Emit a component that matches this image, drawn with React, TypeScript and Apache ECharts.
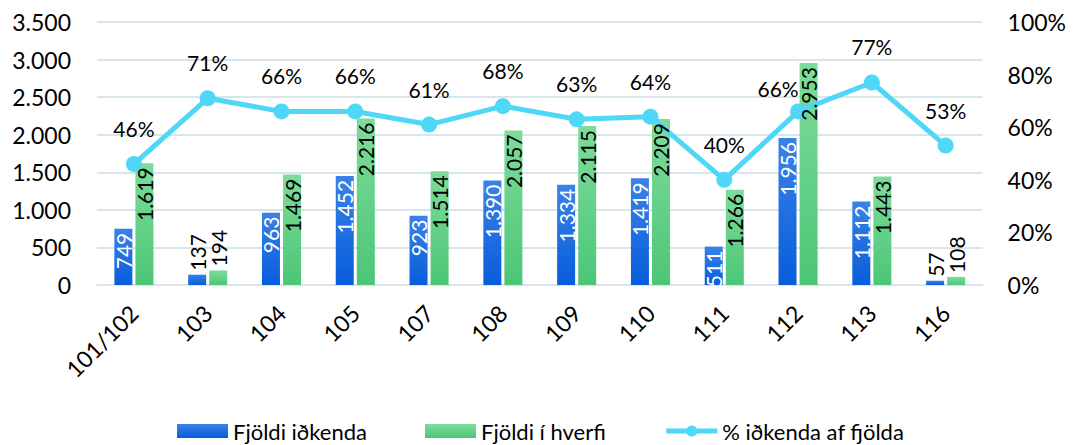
import React, { useEffect, useRef } from "react";
import * as echarts from "echarts";

const categories = ["101/102", "103", "104", "105", "107", "108", "109", "110", "111", "112", "113", "116"];
const participants = [749, 137, 963, 1452, 923, 1390, 1334, 1419, 511, 1956, 1112, 57];
const population = [1619, 194, 1469, 2216, 1514, 2057, 2115, 2209, 1266, 2953, 1443, 108];
const percent = [46, 71, 66, 66, 61, 68, 63, 64, 40, 66, 77, 53];

const FONT = "Lato, 'Open Sans', sans-serif";
const BAR_W = 18;
const BAR_GAP = "17%";

const fmt = (v: number) => String(v).replace(/\B(?=(\d{3})+(?!\d))/g, ".");

function labelData(values: number[], insideColor: string) {
  return values.map((v) => {
    const small = v < 300;
    return {
      value: v,
      label: small
        ? { position: "top", rotate: 90, align: "left", verticalAlign: "middle", color: "#000", distance: 4 }
        : { position: "insideTop", rotate: 90, align: "right", verticalAlign: "middle", color: insideColor, distance: 4 },
    };
  });
}

export default function App() {
  const ref = useRef<HTMLDivElement>(null);
  useEffect(() => {
    if (!ref.current) return;
    const chart = echarts.init(ref.current, undefined, { renderer: "svg" });
    const gridColor = "#d6e6ea";
    const blue = new echarts.graphic.LinearGradient(0, 0, 0, 1, [
      { offset: 0, color: "#3b82e6" },
      { offset: 1, color: "#075ddb" },
    ]);
    const green = new echarts.graphic.LinearGradient(0, 0, 0, 1, [
      { offset: 0, color: "#7edc9b" },
      { offset: 1, color: "#4cc676" },
    ]);
    const barLabel = { show: true, fontSize: 21, fontFamily: FONT, formatter: (p: any) => fmt(p.value) };
    const lineLabels = percent.map((v, i) =>
      categories[i] === "112"
        ? { value: v, label: { position: "top", distance: 4, offset: [-20, 0] } }
        : v
    );
    chart.setOption({
      animation: false,
      backgroundColor: "#fff",
      textStyle: { fontFamily: FONT },
      grid: { left: 89, right: 77, top: 14, bottom: 160 },
      legend: {
        top: 407,
        left: 164,
        itemGap: 58,
        itemWidth: 51,
        itemHeight: 14,
        textStyle: { fontSize: 22, fontFamily: FONT, color: "#000" },
        data: [
          { name: "Fjöldi iðkenda", icon: "rect" },
          { name: "Fjöldi í hverfi", icon: "rect" },
          { name: "% iðkenda af fjölda", lineStyle: { width: 5 } },
        ],
      },
      xAxis: [
        {
          type: "category",
          data: categories,
          axisLine: { lineStyle: { color: gridColor, width: 2 } },
          axisTick: { show: false },
          axisLabel: { rotate: 45, fontSize: 23, color: "#000", fontFamily: FONT, margin: 24, interval: 0 },
        },
        {
          type: "category",
          data: categories,
          show: false,
        },
      ],
      yAxis: [
        {
          type: "value",
          min: 0,
          max: 3500,
          interval: 500,
          axisLine: { show: false },
          axisTick: { show: false },
          splitLine: { lineStyle: { color: gridColor, width: 2 } },
          axisLabel: { fontSize: 23, color: "#000", fontFamily: FONT, margin: 26, formatter: (v: number) => fmt(v) },
        },
        {
          type: "value",
          min: 0,
          max: 100,
          interval: 20,
          axisLine: { show: false },
          axisTick: { show: false },
          splitLine: { show: false },
          axisLabel: { fontSize: 23, color: "#000", fontFamily: FONT, margin: 25, formatter: (v: number) => v + "%" },
        },
      ],
      series: [
        {
          name: "Fjöldi iðkenda",
          type: "bar",
          barWidth: BAR_W,
          barGap: BAR_GAP,
          data: participants,
          itemStyle: { color: blue },
          z: 2,
        },
        {
          name: "Fjöldi í hverfi",
          type: "bar",
          barWidth: BAR_W,
          barGap: BAR_GAP,
          data: population,
          itemStyle: { color: green },
          z: 2,
        },
        {
          name: "% iðkenda af fjölda",
          type: "line",
          yAxisIndex: 1,
          data: lineLabels,
          symbol: "circle",
          symbolSize: 16,
          z: 3,
          lineStyle: { color: "#4fd7f8", width: 5 },
          itemStyle: { color: "#4fd7f8" },
          label: {
            show: true,
            position: "top",
            distance: 17,
            fontSize: 21,
            fontFamily: FONT,
            color: "#000",
            formatter: (p: any) => p.value + "%",
          },
        },
        {
          name: "labels-participants",
          type: "bar",
          xAxisIndex: 1,
          barWidth: BAR_W,
          barGap: BAR_GAP,
          data: labelData(participants, "#fff"),
          itemStyle: { color: "rgba(0,0,0,0)" },
          label: barLabel,
          silent: true,
          z: 5,
        },
        {
          name: "labels-population",
          type: "bar",
          xAxisIndex: 1,
          barWidth: BAR_W,
          barGap: BAR_GAP,
          data: labelData(population, "#000"),
          itemStyle: { color: "rgba(0,0,0,0)" },
          label: barLabel,
          silent: true,
          z: 5,
        },
      ],
    });
    return () => chart.dispose();
  }, []);
  return <div ref={ref} style={{ position: "absolute", left: 8, top: 8, width: 1061, height: 437 }} />;
}
